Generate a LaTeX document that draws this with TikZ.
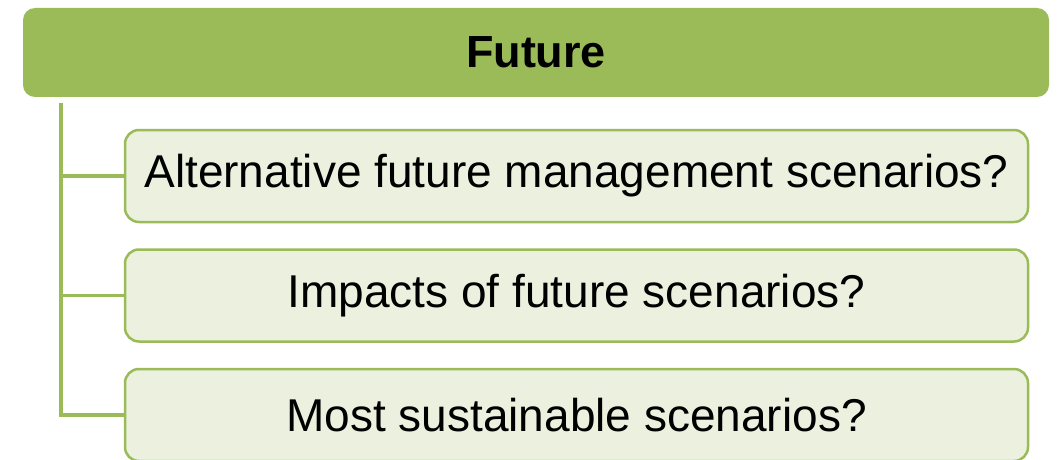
\documentclass[tikz,border=0pt]{standalone}
\usepackage{fontspec}
\setmainfont{Liberation Sans}
\usepackage{xcolor}
\usepackage{tikz}
\usetikzlibrary{positioning,calc}
\definecolor{leaf}{HTML}{9BBB59}
\definecolor{paleleaf}{HTML}{EBF1DE}

\begin{document}
\begin{tikzpicture}[x=1pt,y=1pt,
  hd/.style={fill=leaf,rounded corners=12pt,minimum width=1026pt,
            minimum height=89pt,font=\fontsize{45}{54}\selectfont\bfseries},
  q/.style={draw=leaf,line width=2.5pt,fill=paleleaf,rounded corners=14pt,
            minimum width=903pt,minimum height=92pt,font=\fontsize{46}{55}\selectfont},
  l/.style={draw=leaf,line width=3.5pt}
]
  \useasboundingbox (0,0) rectangle (1061,-460);
  \node[hd] (future) at (536,-52.5) {Future};
  \node[q] (alt) at (576.5,-176) {Alternative future management scenarios?};
  \node[q,below=25pt of alt] (impact) {Impacts of future scenarios?};
  \node[q,below=25pt of impact] (best) {Most sustainable scenarios?};
  \coordinate (trunk) at ($(future.south west)+(38,-6)$);
  \draw[l] (trunk) |- (alt.west);
  \draw[l] (trunk) |- (impact.west);
  \draw[l] (trunk) |- (best.west);
\end{tikzpicture}
\end{document}
